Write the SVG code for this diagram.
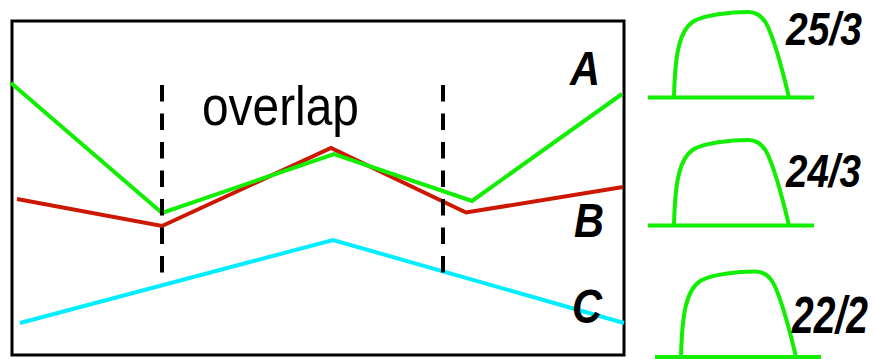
<svg xmlns="http://www.w3.org/2000/svg" width="874" height="359" viewBox="0 0 874 359">
<style>
.ln{fill:none;stroke-width:4;stroke-linejoin:miter}
.g{stroke:#11ee00}
.r{stroke:#cc1800}
.c{stroke:#00eeff}
.dash{fill:none;stroke:#000;stroke-width:4;stroke-dasharray:16.5 12}
.lbl{font-family:"Liberation Sans",Arial,sans-serif;font-weight:bold;font-style:italic;fill:#000}
.bump{fill:none;stroke:#11ee00;stroke-width:4}
</style>
<defs>
<g id="bumpShape">
<path class="bump" d="M648,97.5 H814"/>
<path class="bump" d="M674,97.5 C675,55 679,30 694,21 C705,15 730,12 748,12 C758,12 764,18 768,27 C776,45 783,72 789,97.5"/>
</g>
</defs>
<g id="frame"><rect x="12" y="21" width="612" height="334" fill="#fff" stroke="#000" stroke-width="3"/></g>
<g id="connectors">
<polyline id="lineB" class="ln r" points="17,199 162,226 331,148 466,212.5 623,187"/>
<polyline id="lineA" class="ln g" points="11,83 162,213 334,154 472,201 622,94"/>
<polyline id="lineC" class="ln c" points="20,323 333,240 624,323"/>
<line class="dash" x1="162" y1="85" x2="162" y2="277"/>
<line class="dash" x1="443" y1="85" x2="443" y2="277"/>
</g>
<g id="overlap"><text x="202" y="125" font-family="'Liberation Sans',Arial,sans-serif" font-size="56" textLength="157" lengthAdjust="spacingAndGlyphs">overlap</text></g>
<g id="labelA"><text class="lbl" x="570" y="85" font-size="48" textLength="30" lengthAdjust="spacingAndGlyphs">A</text></g>
<g id="labelB"><text class="lbl" x="574" y="237" font-size="48" textLength="30" lengthAdjust="spacingAndGlyphs">B</text></g>
<g id="labelC"><text class="lbl" x="572" y="323" font-size="48" textLength="30" lengthAdjust="spacingAndGlyphs">C</text></g>
<g id="peak1"><use href="#bumpShape"/><text class="lbl" x="786" y="45" font-size="46" textLength="76" lengthAdjust="spacingAndGlyphs">25/3</text></g>
<g id="peak2"><use href="#bumpShape" transform="translate(0,128)"/><text class="lbl" x="786" y="187" font-size="47" textLength="75" lengthAdjust="spacingAndGlyphs">24/3</text></g>
<g id="peak3"><use href="#bumpShape" transform="translate(7,259.5)"/><text class="lbl" x="792" y="333" font-size="51" textLength="76" lengthAdjust="spacingAndGlyphs">22/2</text></g>
</svg>
